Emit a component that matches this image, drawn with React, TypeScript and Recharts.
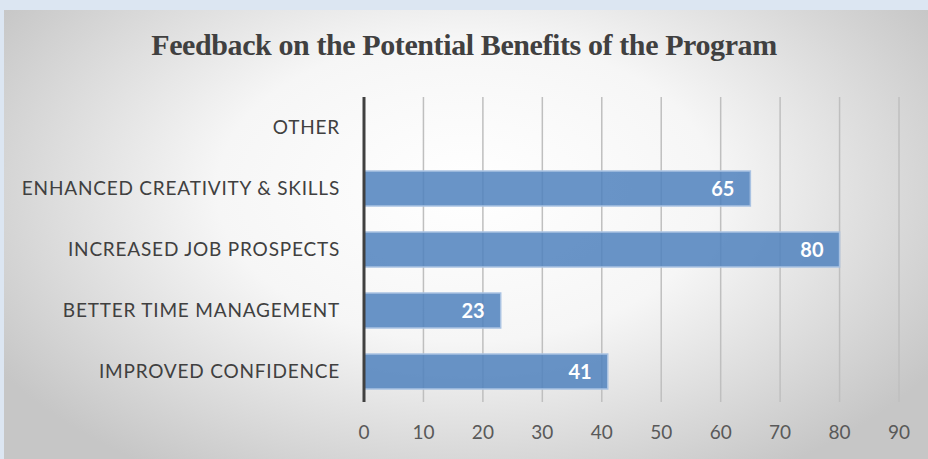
import React from 'react';
import {
  BarChart,
  Bar,
  XAxis,
  YAxis,
  CartesianGrid,
  LabelList,
} from 'recharts';

const categories = [
  'OTHER',
  'ENHANCED CREATIVITY & SKILLS',
  'INCREASED JOB PROSPECTS',
  'BETTER TIME MANAGEMENT',
  'IMPROVED CONFIDENCE',
];
const responses = [0, 65, 80, 23, 41];
const xTicks = [0, 10, 20, 30, 40, 50, 60, 70, 80, 90];

const data = categories.map((name, i) => ({ name, value: responses[i] }));

const labelFont = 'Lato, "Open Sans", sans-serif';

export default function App() {
  return (
    <div
      style={{
        position: 'fixed',
        left: 0,
        top: 0,
        width: 928,
        height: 459,
        background: '#dce6f2',
        overflow: 'hidden',
      }}
    >
      {/* panel with the grey-to-white glow */}
      <div
        style={{
          position: 'absolute',
          left: 4,
          top: 10,
          width: 924,
          height: 449,
          background:
            'radial-gradient(ellipse 60% 75% at 50% 40%, #ffffff 0%, #f6f6f6 45%, #dcdcdc 75%, #c6c6c6 100%)',
        }}
      />
      <div
        style={{
          position: 'absolute',
          left: 0,
          top: 28,
          width: 928,
          textAlign: 'center',
          fontFamily: '"Liberation Serif", "DejaVu Serif", serif',
          fontWeight: 'bold',
          fontSize: 30,
          color: '#404040',
          letterSpacing: -0.4,
        }}
      >
        Feedback on the Potential Benefits of the Program
      </div>
      <div style={{ position: 'absolute', left: 0, top: 0 }}>
        <BarChart
          width={928}
          height={459}
          data={data}
          layout="vertical"
          margin={{ top: 97, right: 29, left: 0, bottom: 0 }}
        >
          <CartesianGrid horizontal={false} stroke="#bfbfbf" strokeWidth={1.5} />
          <XAxis
            type="number"
            domain={[0, 90]}
            ticks={xTicks}
            axisLine={false}
            tickLine={false}
            tickSize={0}
            tickMargin={24}
            height={57}
            tick={{ fill: '#595959', fontSize: 19, fontFamily: labelFont }}
          />
          <YAxis
            type="category"
            dataKey="name"
            width={364}
            axisLine={{ stroke: '#404040', strokeWidth: 3 }}
            tickLine={false}
            tickSize={0}
            tickMargin={24}
            tick={{
              fill: '#404040',
              fontSize: 19,
              fontFamily: labelFont,
              letterSpacing: 0.8,
            }}
          />
          <Bar
            dataKey="value"
            barSize={35}
            fill="#4f81bd"
            fillOpacity={0.85}
            stroke="#a9c2e2"
            strokeWidth={1.5}
            isAnimationActive={false}
          >
            <LabelList
              dataKey="value"
              position="insideRight"
              offset={16}
              formatter={(v: any) => (v > 0 ? v : '')}
              style={{
                fill: '#ffffff',
                fontSize: 20,
                fontWeight: 'bold',
                fontFamily: labelFont,
              }}
            />
          </Bar>
        </BarChart>
      </div>
    </div>
  );
}
